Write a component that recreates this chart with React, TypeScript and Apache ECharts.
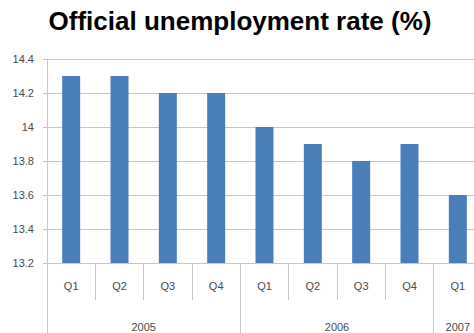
import React, { useEffect, useRef } from "react";
import * as echarts from "echarts";

const quarters = ["Q1", "Q2", "Q3", "Q4", "Q1", "Q2", "Q3", "Q4", "Q1"];
const rates = [14.3, 14.3, 14.2, 14.2, 14.0, 13.9, 13.8, 13.9, 13.6];
const years = ["2005", "2006", "2007"];
const yearStart = [0, 4, 8];
const yearSpan = [4, 4, 1];

const GRID = "#c6c6c6";
const LABEL = "#4a4a4a";
const FONT = "Liberation Sans, Arial, sans-serif";

export default function App() {
  const ref = useRef<HTMLDivElement>(null);
  useEffect(() => {
    if (!ref.current) return;
    const chart = echarts.init(ref.current, undefined, { renderer: "svg" });
    const yearCenters: Record<string, string> = {};
    years.forEach((y, i) => {
      yearCenters[(yearStart[i] + yearSpan[i] / 2).toFixed(1)] = y;
    });
    chart.setOption({
      animation: false,
      backgroundColor: "#ffffff",
      title: {
        text: "Official unemployment rate (%)",
        left: 240,
        top: 8,
        padding: 0,
        textAlign: "center",
        textStyle: { fontFamily: FONT, fontSize: 26, fontWeight: "bold", color: "#000" },
      },
      grid: {
        left: 47,
        top: 59,
        width: 435,
        height: 204,
        containLabel: false,
        outerBoundsMode: "none",
      },
      xAxis: [
        {
          type: "category",
          data: quarters,
          position: "bottom",
          axisLine: { show: true, lineStyle: { color: GRID } },
          axisTick: { show: true, length: 37, lineStyle: { color: GRID } },
          axisLabel: { color: LABEL, fontFamily: FONT, fontSize: 11, margin: 17, interval: 0 },
          splitLine: { show: false },
        },
        {
          type: "category",
          data: quarters.map((_, i) => i),
          position: "bottom",
          axisLine: { show: false },
          axisTick: {
            show: true,
            length: 75,
            interval: (idx: number) => yearStart.indexOf(idx) >= 0,
            lineStyle: { color: GRID },
          },
          axisLabel: { show: false },
          splitLine: { show: false },
        },
        {
          type: "value",
          min: 0,
          max: quarters.length,
          interval: 0.5,
          position: "bottom",
          axisLine: { show: false },
          axisTick: { show: false },
          splitLine: { show: false },
          axisLabel: {
            color: LABEL,
            fontFamily: FONT,
            fontSize: 11,
            margin: 58,
            showMinLabel: true,
            showMaxLabel: true,
            hideOverlap: false,
            formatter: (v: number) => yearCenters[v.toFixed(1)] || "",
          },
        },
      ],
      yAxis: {
        type: "value",
        min: 13.2,
        max: 14.4,
        interval: 0.2,
        axisLine: { show: true, lineStyle: { color: GRID } },
        axisTick: { show: true, length: 4, lineStyle: { color: GRID } },
        splitLine: { show: true, lineStyle: { color: GRID } },
        axisLabel: {
          color: LABEL,
          fontFamily: FONT,
          fontSize: 11,
          margin: 13,
          formatter: (v: number) => String(Math.round(v * 10) / 10),
        },
      },
      series: [
        {
          type: "bar",
          data: rates,
          xAxisIndex: 0,
          barWidth: 18,
          itemStyle: { color: "#4a7ebb" },
        },
      ],
    });
    return () => chart.dispose();
  }, []);
  return (
    <div
      ref={ref}
      style={{ position: "fixed", left: 0, top: 0, width: 474, height: 333, background: "#fff" }}
    />
  );
}
